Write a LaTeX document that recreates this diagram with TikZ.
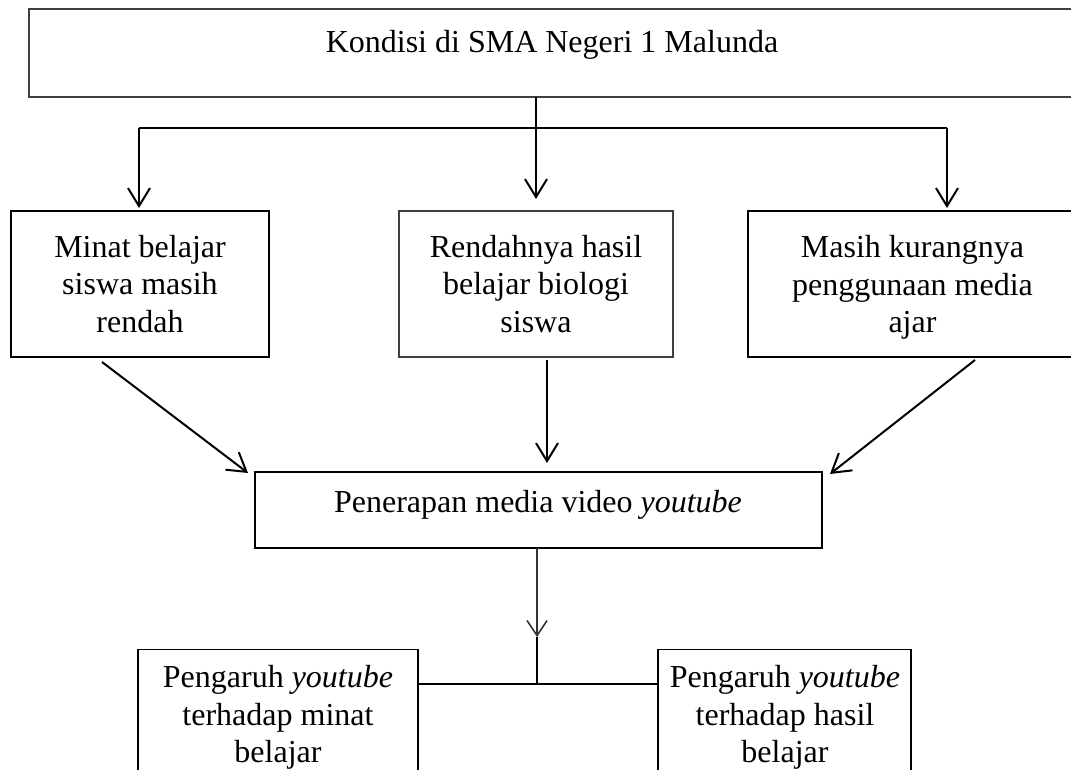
\documentclass[tikz,border=0pt]{standalone}
\usepackage{fontspec}
\setmainfont{Liberation Serif}
\usetikzlibrary{arrows.meta,calc}
\begin{document}
\begin{tikzpicture}[x=1pt,y=-1pt,
  every node/.style={font=\fontsize{32}{37.5}\selectfont},
  boxbase/.style={rectangle, inner sep=0pt, align=center},
  boxthick/.style={boxbase, draw=black, line width=2.2pt},
  boxgray/.style={boxbase, draw=black!75, line width=1.6pt},
  boxthin/.style={boxbase, draw=black, line width=1.3pt},
  txt/.style={inner sep=0pt, align=center},
  conn/.style={line width=2pt, black},
  arr/.style={conn, -{Straight Barb[length=18pt,width=22pt]}},
  arrsmall/.style={line width=1.6pt, black!80, -{Straight Barb[length=15pt,width=20pt]}}
]
\clip (0,0) rectangle (1071,770);
\fill[white] (0,0) rectangle (1071,770);

% top box
\node[boxgray, minimum width=1047pt, minimum height=88pt] (top) at (552.5,53) {};
\node[txt] (toptxt) at (552,44.5) {Kondisi di SMA Negeri 1 Malunda};

% three boxes
\node[boxthick, minimum width=258pt, minimum height=146pt] (a) at (140,284) {Minat belajar\\siswa masih\\rendah};
\node[boxgray, minimum width=274pt, minimum height=146pt] (b) at (536,284) {Rendahnya hasil\\belajar biologi\\siswa};
\node[boxthick, minimum width=329pt, minimum height=146pt, text depth=0pt] (c) at (912.5,284) {Masih kurangnya\\penggunaan media\\ajar};

% penerapan
\node[boxthin, minimum width=567pt, minimum height=76pt] (p) at (538.5,510) {};
\node[txt] (ptxt) at (538,504.5) {Penerapan media video \textit{youtube}};

% bottom boxes
\node[boxthin, anchor=north, minimum width=280pt, minimum height=160pt] (d) at (278,649) {};
\node[txt] (dtxt) at (278,717.5) {Pengaruh \textit{youtube}\\terhadap minat\\belajar};
\node[boxthin, anchor=north, minimum width=253pt, minimum height=160pt] (e) at (784.5,649) {};
\node[txt] (etxt) at (785,717.5) {Pengaruh \textit{youtube}\\terhadap hasil\\belajar};

% top connectors
\coordinate (t0) at (536,97);
\coordinate (tm) at (536,199);
\coordinate (hl) at (139,128);
\coordinate (hr) at (947,128);
\coordinate (al) at (139,208);
\coordinate (cr) at (947,208);
\draw[arr] (t0) -- (tm);
\draw[conn] (hl) -- (hr);
\draw[arr] (hl) -- (al);
\draw[arr] (hr) -- (cr);

% to penerapan
\coordinate (a1) at (102,362);
\coordinate (a2) at (248,473);
\coordinate (b1) at (547,360);
\coordinate (b2) at (547,463);
\coordinate (c1) at (975,360);
\coordinate (c2) at (830,474);
\draw[arr] (a1) -- (a2);
\draw[arr] (b1) -- (b2);
\draw[arr] (c1) -- (c2);

% bottom
\coordinate (p1) at (537,548);
\coordinate (pm) at (537,637);
\coordinate (j) at (537,684);
\coordinate (dl) at (418,684);
\coordinate (er) at (658,684);
\draw[arrsmall] (p1) -- (pm);
\draw[conn, line width=1.6pt] (pm) -- (j);
\draw[conn, line width=1.6pt] (dl) -- (er);
\end{tikzpicture}
\end{document}
